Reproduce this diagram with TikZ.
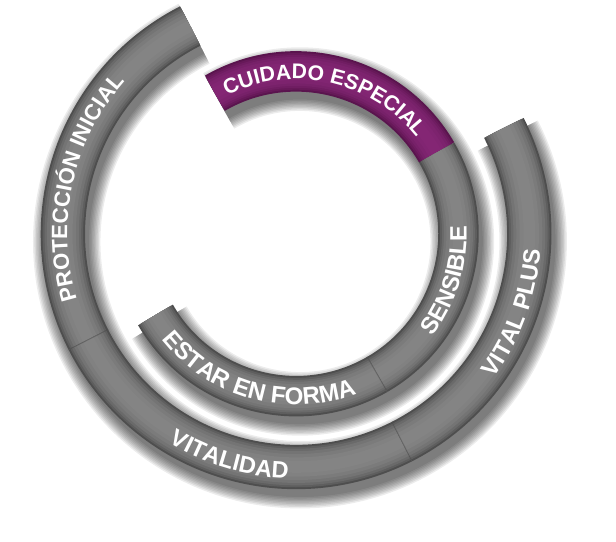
\documentclass[tikz,border=0pt]{standalone}
\usepackage{fontspec}
\newfontfamily\ringfont{Liberation Sans}
\usetikzlibrary{decorations.text}
\definecolor{ringgray}{RGB}{132,132,132}
\definecolor{ringedge}{RGB}{78,78,78}
\definecolor{plum}{RGB}{132,38,116}
\definecolor{plumedge}{RGB}{90,20,78}

\begin{document}
\begin{tikzpicture}[
        ringshadow/.style={line width=#1, black, opacity=0.075},
        ringlabel/.style n args={2}{decorate, decoration={text along path, text align=center, text color=white,
                          text={|\ringfont\bfseries\fontsize{#1}{#1}\selectfont|#2}}}
    ]
    \fill[white] (-284pt,-315pt) rectangle (332pt,241pt);
    % soft shadows, offset down right
    \begin{scope}[shift={(4pt,-8pt)}]
        \foreach \k [evaluate=\k as \w using 46+3*\k] in {0,...,8}
            \draw[ringshadow=\w pt] (117:242pt) arc[start angle=117, end angle=387, radius=242pt];
        \foreach \k [evaluate=\k as \w using 42+3*\k] in {0,...,8}
            \draw[ringshadow=\w pt] (120:168.5pt) arc[start angle=120, end angle=-150, radius=168.5pt];
    \end{scope}
    % outer ring
    \foreach \a/\b in {117/207, 207/297, 297/387}
        \foreach \w/\p in {46/0, 42/30, 38/52, 33/70, 27/84, 20/94, 12/100}
            \draw[line width=\w pt, draw=ringgray!\p!ringedge] (\a:242pt) arc[start angle=\a, end angle=\b, radius=242pt];
    % inner ring
    \foreach \a/\b/\c/\e in {120/30/plum/plumedge, 30/-60/ringgray/ringedge, -60/-150/ringgray/ringedge}
        \foreach \w/\p in {42/0, 38/30, 34/52, 30/70, 25/84, 18/94, 11/100}
            \draw[line width=\w pt, draw=\c!\p!\e] (\a:168.5pt) arc[start angle=\a, end angle=\b, radius=168.5pt];
    % seams
    \foreach \a in {207, 297}
        \draw[ringedge, opacity=0.5, line width=1pt] (\a:219pt) -- (\a:265pt);
    \draw[ringedge, opacity=0.5, line width=1pt] (-60:147.5pt) -- (-60:189.5pt);
    % labels
    \path[ringlabel={23}{PROTECCIÓN INICIAL}] (212.5:237.5pt) arc[start angle=212.5, end angle=122.5, radius=237.5pt];
    \path[ringlabel={24.5}{VITALIDAD}] (208.4:254pt) arc[start angle=208.4, end angle=298.4, radius=254pt];
    \path[ringlabel={24.5}{VITAL PLUS}] (-65:254pt) arc[start angle=-65, end angle=25, radius=254pt];
    \path[ringlabel={22}{CUIDADO ESPECIAL}] (122.5:160.5pt) arc[start angle=122.5, end angle=32.5, radius=160.5pt];
    \path[ringlabel={24.5}{SENSIBLE}] (-62:177pt) arc[start angle=-62, end angle=28, radius=177pt];
    \path[ringlabel={25}{ESTAR EN FORMA}] (-150.5:177.5pt) arc[start angle=-150.5, end angle=-60.5, radius=177.5pt];
\end{tikzpicture}
\end{document}
